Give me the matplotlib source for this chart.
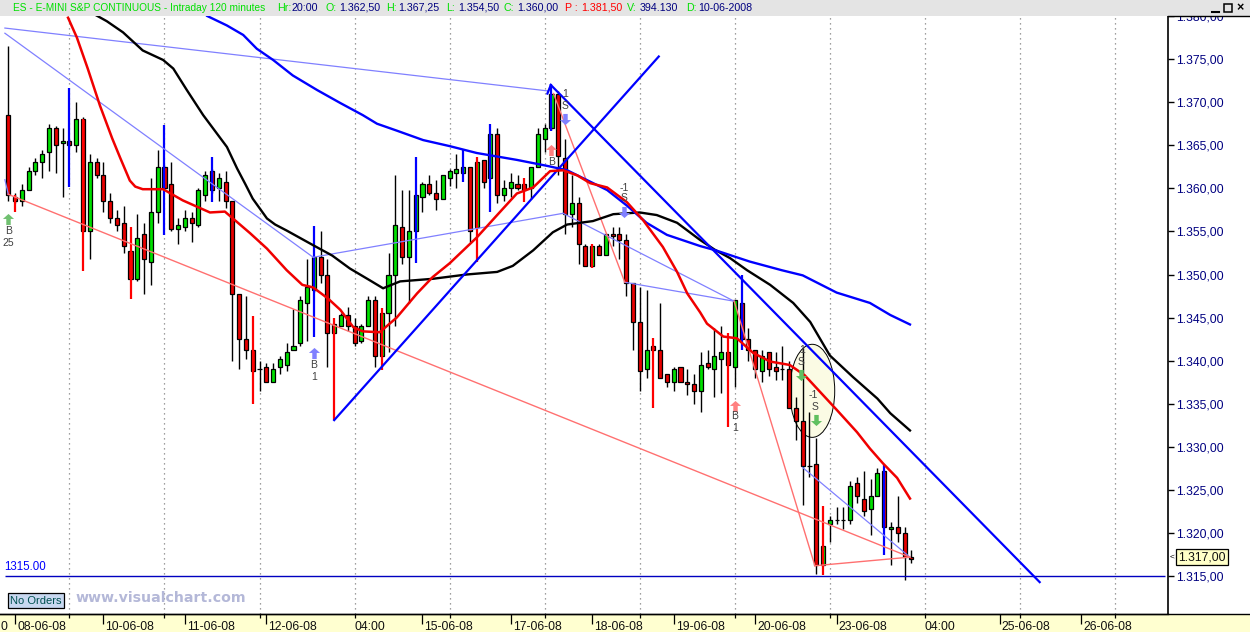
import matplotlib
matplotlib.use('Agg')
import matplotlib.pyplot as plt
from matplotlib.patches import Ellipse, Rectangle
from matplotlib.lines import Line2D
from matplotlib.transforms import ScaledTranslation

plt.rcParams['font.family'] = ['Liberation Sans', 'DejaVu Sans']

# velas de 120 minutos
opens = [1368.5,1359,1358.5,1359.75,1362,1363,1364.25,1367,1365.25,1365.5,
         1365,1368,1355,1363,1361.5,1358.5,1356.5,1356,1352.75,1349.5,
         1354.75,1351.5,1357.25,1362.5,1360.5,1355.25,1355.5,1356.5,1355.75,1359.25,
         1362,1360,1360.75,1358.5,1347.75,1342.5,1341.25,1339,1339.25,1337.5,
         1339.25,1339.5,1341.25,1342,1346.75,1348.25,1352,1350,1343.25,1344,
         1345.25,1344,1342.25,1344,1347,1340.5,1345.5,1350,1355.5,1352,
         1355,1359,1360.5,1359.5,1358.75,1361.25,1361.75,1361.75,1362.5,1355.5,
         1363.25,1361.25,1366.25,1359.25,1360,1360.5,1360.5,1360,1362.5,1365.75,
         1367,1371,1363.5,1357,1358.25,1353.25,1351,1353.25,1352.25,1354.75,
         1354.75,1354,1349,1344.5,1339,1341.75,1341.25,1338.5,1337.5,1339.25,
         1337.5,1337.25,1336.5,1339.75,1339,1340.25,1341,1339.25,1346.75,1342.5,
         1341.25,1338.75,1341,1339.25,1339,1339,1334.5,1333,1327.75,1328,
         1316.25,1321,1321.5,1321.5,1321.5,1325.75,1324,1322.75,1324.25,1327.25,
         1320.5,1320.75,1320,1317.25]
highs = [1376.5,1359.5,1360.5,1362.5,1363.5,1364.5,1367.5,1367.25,1367,1365.75,
         1370,1368.25,1364,1363.5,1363,1359.5,1357.5,1358,1352.75,1357,
         1356,1361.25,1364.5,1362.75,1363,1356.5,1357.5,1357.25,1360,1362,
         1362.25,1361.75,1362,1358.5,1347.75,1347.5,1341.25,1340,1339.75,1339.75,
         1340.5,1342,1346,1347.5,1351.75,1352,1355,1351.75,1344.25,1345.5,
         1346.25,1345,1344.25,1347.5,1347.5,1345.5,1352.5,1361.5,1359.75,1359.75,
         1359.25,1360.75,1361.5,1361,1361.5,1362.25,1364,1362.5,1362.5,1363,
         1363.25,1366.25,1367,1361,1361.75,1361.5,1360.5,1362.5,1367,1367.5,
         1371,1371.25,1365.75,1361.5,1359,1353.5,1353.25,1353.5,1354.75,1355.5,
         1355.5,1354.75,1349,1348.5,1348.25,1341.75,1346.75,1338.5,1339.25,1339.25,
         1339,1338.5,1341,1341.25,1343.75,1344,1341,1347,1346.75,1343.75,
         1341.25,1341.25,1341,1341,1341.75,1340,1335.75,1341.5,1334,1331,
         1318.5,1322,1323,1323,1326,1326.5,1327.25,1326.25,1327.5,1327.25,
         1321.25,1324.25,1320.75,1318]
lows = [1358.5,1358.25,1358,1359.75,1361.5,1361.25,1362,1361.75,1359,1364.75,
        1364.25,1355,1351.75,1361.25,1357.25,1356,1355,1352.5,1349.5,1349.25,
        1347.75,1348.75,1356,1360,1355,1353.5,1355,1353.75,1355.5,1358.5,
        1359.5,1358.5,1357.75,1340,1339,1340.25,1338.75,1336.5,1337.5,1337.5,
        1338.5,1338.75,1341.25,1341.75,1342.25,1348,1349,1339.25,1343.25,1344,
        1343.5,1341.75,1342,1344,1339.25,1340.5,1341,1344,1351.25,1346.75,
        1355,1357.25,1359.25,1357.5,1358.75,1360.25,1360,1361.75,1353.75,1355.5,
        1360,1361.25,1358.25,1358.5,1359,1359.75,1359.75,1358.75,1362.5,1364.25,
        1366.75,1361.5,1354.75,1355.5,1351.25,1351,1351,1352.25,1352.25,1353.25,
        1351.75,1347.5,1341.25,1336.5,1338,1341.25,1338,1337,1336.5,1337.5,
        1336,1335,1334,1339,1335.75,1336.25,1339.5,1337,1342.5,1340,
        1338,1337.5,1338.25,1337.75,1337.75,1334.5,1330.75,1323.25,1326.5,1315.25,
        1316.25,1319,1321,1320.5,1321,1323.5,1322,1319.75,1324.25,1320.75,
        1316.25,1319,1314.5,1316.5]
closes = [1359.25,1358.5,1359.75,1362,1363,1364,1367,1365,1365.5,1365,
          1368,1355,1363,1361.5,1358.5,1356.5,1355.75,1353.25,1349.5,1354.25,
          1351.75,1357.25,1362.5,1360,1355.25,1355.75,1356.5,1356,1359.75,1361.5,
          1359.75,1361.25,1358.5,1347.75,1342.5,1341.25,1338.75,1339,1337.5,1339,
          1340.25,1341,1341.75,1347,1348.5,1352,1350,1343.25,1344.25,1345.25,
          1344,1342,1344,1347,1340.5,1345.5,1350,1355.75,1352,1355,
          1359.25,1360.5,1359.5,1358.75,1361.5,1362,1362.25,1362.5,1355,1363,
          1360.75,1366.25,1359.25,1360,1360.75,1360,1359.75,1362.5,1366.25,1367,
          1371,1363.75,1357,1358.25,1353.5,1351,1353.25,1352.25,1354.75,1354.5,
          1354,1349,1344.5,1338.75,1341.25,1341.25,1338,1337.5,1339,1337.5,
          1337.25,1336.5,1339.5,1339.25,1340.5,1341,1339.5,1347,1342.5,1341.25,
          1339,1340.5,1339,1338.75,1339,1334.5,1333,1327.75,1327.75,1316.25,
          1318.5,1321.5,1321.5,1321.5,1325.5,1324.25,1322.5,1324.25,1327,1320.75,
          1320.75,1320,1317.25,1317]

# medias moviles
red_ma_x = [8.8,10.1,11.7,13.5,15.3,16.5,17.9,18.7,19.8,22.8,25.7,29.7,31.9,35.6,38.1,41,43.3,
            44.9,47.1,48.9,50.8,52.2,54.7,57.2,60.2,62.5,65,67,69,72,74.9,77.3,
            79.8,81.7,83.8,85.7,88.2,91.1,93.5,96.4,98.5,100,101.9,102.9,105.3,107.3,109.7,
            112.2,115.1,117.3,120,122,125,126.9,128.8,130.9,132.8]
red_ma_y = [1379.8,1377.5,1373.9,1369.6,1365.8,1363.5,1360.9,1360.2,1359.9,1359.9,1358.6,1357.2,1357.3,1354.8,1353,1350.5,1348.8,
            1348.5,1347.2,1345.9,1343.9,1343.4,1343.3,1345,1347.8,1349.7,1351.3,1352.8,1354.3,1356.9,1359.4,1360.1,
            1362,1362.1,1361.5,1360.6,1360.1,1358.4,1356.3,1353.2,1350.3,1347.8,1345.6,1344.3,1342.8,1342.6,1340.9,
            1339.9,1339.5,1338.3,1336,1334.3,1331.7,1329.8,1328.1,1326.4,1324]
black_ma_x = [12.9,14.5,16.9,19.8,22.8,24.3,26.3,28.7,32.2,33.7,34.9,36,38.1,39.3,41,44.9,47.7,50.3,53.3,55.2,57.7,62.5,
              67.5,72,74.3,77.3,80.2,82.3,86.1,89.1,93,95.5,98.5,101.9,104,106.3,108.8,112.2,115.6,118.1,121,124.4,
              128,129.9,132.8]
black_ma_y = [1380.1,1379.4,1378.1,1376,1374.9,1373.9,1371.4,1368.5,1364.8,1362.3,1360.5,1358.8,1356.5,1355.8,1355.1,1353.4,1352.2,1350.7,1349.3,1348.4,1349.2,1349.5,
              1350,1350.3,1351,1352.8,1354.9,1355.8,1356.2,1357,1357.2,1356.9,1356,1354,1352.9,1351.9,1350.5,1348.8,1346.7,1344.5,1340.6,1338.1,
              1335.6,1333.9,1331.9]
blue_ma_x = [29.3,32.2,34.6,36.6,39,41.9,45.5,48.9,52.2,54.3,57.2,61.1,65,69,74.9,79.4,82.3,84.6,88.2,91.1,
             94,97,101.9,104.2,109.2,113.9,117,122,126.9,129.9,132.8]
blue_ma_y = [1380,1378.9,1377.8,1376.2,1374.9,1373.1,1371.4,1369.9,1368.5,1367.5,1366.7,1365.6,1364.9,1364.1,1363.3,1362.6,1362.1,1361.2,1359.8,1358,
             1356,1354.6,1353.3,1352.8,1351.5,1350.5,1349.9,1347.9,1346.7,1345.3,1344.2]

# lineas de señal verticales
blue_sig_x = [9,23,30,45,60,67,71,80,108,129]
blue_sig_hi = [1371.6,1367.3,1363.6,1355.6,1363.6,1364.4,1367.5,1372,1350,1327.9]
blue_sig_lo = [1360.1,1354.6,1358.4,1342.8,1351.3,1360.7,1357.3,1366.7,1341.2,1317.4]
red_sig_x = [1,11,18,36,48,55,69,76,86,95,106,120]
red_sig_hi = [1359.2,1368.1,1355.5,1345.2,1344.9,1346.1,1363.6,1361.2,1353.5,1342.6,1343.2,1323.1]
red_sig_lo = [1357.3,1350.4,1347.2,1335,1333.1,1338.9,1351.4,1358.4,1350.8,1334.5,1332.3,1315.1]

# tendencias gruesas: (x0, y0, x1, y1)
thick_lines = [(48, 1333.1, 95.8, 1375.3), (79.9, 1372, 151.9, 1314.3), (79.4, 1371, 79.9, 1372)]
thin_blue = [(-0.5, 1378.6, 79.5, 1371.3), (-0.5, 1378, 44.9, 1352), (44.9, 1352, 81.7, 1357.1),
             (81.7, 1357.1, 106.9, 1346.9), (90.8, 1349.1, 106.9, 1346.9), (117, 1327.6, 132.8, 1317.2),
             (-0.5, 1361, 0, 1359.3)]
thin_red = [(0, 1359.3, 132.8, 1317.2), (80.3, 1371, 90.8, 1349.1), (106.9, 1346.9, 118.8, 1316.2),
            (118.8, 1316.2, 132.8, 1317.2)]

# flechas y textos
up_arrows = [(0, 1356.4, '#70c070'), (45, 1340.9, '#8080ff'), (80, 1364.4, '#ff8080'), (107, 1334.7, '#ff8080')]
down_arrows = [(82, 1368.1, '#8080ff'), (90.7, 1357.2, '#8080ff'), (116.7, 1338.3, '#60c060'), (118.9, 1333.1, '#60c060')]
notes = [(0, 1355, 'B'), (0, 1353.6, '25'), (45, 1339.5, 'B'), (45, 1338.1, '1'), (80, 1363.1, 'B'),
         (82, 1371, '1'), (82, 1369.6, 'S'), (90.7, 1360, '-1'), (90.7, 1358.9, 'S'),
         (107, 1333.6, 'B'), (107, 1332.2, '1'), (116.9, 1341.2, '1'), (116.7, 1339.8, 'S'),
         (118.6, 1336, '-1'), (118.8, 1334.6, 'S')]

grid_idx = [9,23,37,51,65,79,93,107,121,135,149,163]
date_idx = [-1.2,1,14,26,38,51,61,74,86,98,110,122,135,146,158]
date_labels = ['0','08-06-08','10-06-08','11-06-08','12-06-08','04:00','15-06-08','17-06-08','18-06-08',
               '19-06-08','20-06-08','23-06-08','04:00','25-06-08','26-06-08']
price_ticks = [1315,1320,1325,1330,1335,1340,1345,1350,1355,1360,1365,1370,1375,1380]

header = [(13, 'ES - E-MINI S&P CONTINUOUS - Intraday 120 minutes', '#00e000', 7.25),
          (277, 'Hr:', '#00e000', 7.7), (292, '20:00', '#000080', 7.7), (325, 'O:', '#00e000', 7.7),
          (339, '1.362,50', '#000080', 7.7), (386, 'H:', '#00e000', 7.7), (398, '1.367,25', '#000080', 7.7),
          (446, 'L:', '#00e000', 7.7), (458, '1.354,50', '#000080', 7.7), (504, 'C:', '#00e000', 7.7),
          (517, '1.360,00', '#000080', 7.7), (565, 'P :', '#ff0000', 7.7), (581, '1.381,50', '#ff0000', 7.7),
          (627, 'V:', '#00e000', 7.7), (640, '394.130', '#000080', 7.7), (686, 'D:', '#00e000', 7.7),
          (698, '10-06-2008', '#000080', 7.7)]

W, H = 1250, 632
fig = plt.figure(figsize=(W / 100, H / 100), dpi=100, facecolor='white')
ax = fig.add_axes([0, 18 / H, 1168 / W, 598 / H])
ax.set_xlim(-1.222, 170.8)
ax.set_ylim(1310.6, 1379.96)

# franja inferior crema
fig.patches.append(Rectangle((0, 0), 1, 18 / H, transform=fig.transFigure, facecolor='#ffffd0',
                             edgecolor='none', zorder=-1))

for s in ['left', 'top']:
    ax.spines[s].set_visible(False)
ax.spines['right'].set_linewidth(1.2)
ax.spines['bottom'].set_linewidth(1.0)

# rejilla punteada
for g in grid_idx:
    ax.axvline(g, color='#808080', lw=0.9, ls=(0, (1, 3)), zorder=1)

ax.add_patch(Ellipse((118.4, 1336.5), 6.63, 10.8, facecolor='#fbfbe4', edgecolor='black', lw=0.7, zorder=1.5))

# velas
idx = list(range(len(opens)))
ax.vlines(idx, lows, highs, color='black', lw=1.0, zorder=2)
bottoms = [min(o, c) for o, c in zip(opens, closes)]
heights = [abs(o - c) for o, c in zip(opens, closes)]
colors = ['#00e000' if c >= o else '#e80000' for o, c in zip(opens, closes)]
ax.bar(idx, heights, width=0.6, bottom=bottoms, color=colors, edgecolor='black', linewidth=0.9, zorder=3)

# señales
ax.vlines(blue_sig_x, blue_sig_lo, blue_sig_hi, color='#0000ff', lw=1.6, zorder=4)
ax.vlines(red_sig_x, red_sig_lo, red_sig_hi, color='#ff0000', lw=1.6, zorder=4)

# nivel 1315
ax.hlines(1315, -0.5, 170.3, color='#0000c0', lw=1.0, zorder=4)
ax.text(-0.65, 1316, '1315.00', color='#0000ff', fontsize=8.3, ha='left', va='center')

for x0, y0, x1, y1 in thin_blue:
    ax.plot([x0, x1], [y0, y1], color='#8080ff', lw=0.9, zorder=5)
for x0, y0, x1, y1 in thin_red:
    ax.plot([x0, x1], [y0, y1], color='#ff7070', lw=1.0, zorder=5)

ax.plot(black_ma_x, black_ma_y, color='black', lw=1.7, zorder=6)
ax.plot(blue_ma_x, blue_ma_y, color='#0000ff', lw=1.7, zorder=6)
ax.plot(red_ma_x, red_ma_y, color='#f00000', lw=1.8, zorder=7)
for x0, y0, x1, y1 in thick_lines:
    ax.plot([x0, x1], [y0, y1], color='#0000ff', lw=1.6, zorder=6)

arrow_up = [(0, 1), (-1, 0.1), (-0.4, 0.1), (-0.4, -1), (0.4, -1), (0.4, 0.1), (1, 0.1), (0, 1)]
arrow_down = [(x, -y) for x, y in arrow_up]
for x, y, c in up_arrows:
    ax.plot(x, y, marker=arrow_up, color=c, ms=8, mew=0, zorder=8)
for x, y, c in down_arrows:
    ax.plot(x, y, marker=arrow_down, color=c, ms=8, mew=0, zorder=8)
for x, y, t in notes:
    ax.text(x, y, t, fontsize=7.5, color='#404040', ha='center', va='center', zorder=8)

# ejes
ax.yaxis.tick_right()
ax.set_yticks(price_ticks)
ax.set_yticklabels([f'{p:,.2f}'.replace(',', ';').replace('.', ',').replace(';', '.') for p in price_ticks],
                   fontsize=8.7, color='#000080')
ax.tick_params(axis='y', length=4, width=1, pad=1.5)
ax.set_xticks(date_idx)
ax.set_xticklabels(date_labels, fontsize=8.7, color='#101010', ha='left')
ax.tick_params(axis='x', length=7, width=0.9, pad=-2)
ax.set_xticks(grid_idx, minor=True)
ax.tick_params(axis='x', which='minor', length=3, width=0.9)
shift = ScaledTranslation(1.4 / 72, 0, fig.dpi_scale_trans)
for tick, lab in zip(ax.xaxis.get_major_ticks(), date_labels):
    if lab == '04:00':
        tick.tick1line.set_markersize(3)
    elif lab == '0':
        tick.tick1line.set_markersize(0)
    else:
        tick.label1.set_transform(tick.label1.get_transform() + shift)

# valor actual
trans = ax.get_yaxis_transform()
ax.text(1 + 10 / 1168, 1317.2, '1.317,00', transform=trans, fontsize=8.7, color='#101010', va='center', ha='left',
        clip_on=False, bbox=dict(boxstyle='square,pad=0.18', facecolor='#ffffc8', edgecolor='black', lw=0.9), zorder=9)
ax.text(1 + 2 / 1168, 1317.2, '<', transform=trans, fontsize=6, color='black', va='center', ha='left', clip_on=False)

# cabecera gris
hax = fig.add_axes([0, 0, 1, 1], facecolor='none')
hax.set_xlim(0, W)
hax.set_ylim(H, 0)
hax.axis('off')
hax.add_patch(Rectangle((0, 0), W, 16, facecolor='#e4e4e4', edgecolor='none'))
for x, t, c, fs in header:
    hax.text(x, 8, t, color=c, fontsize=fs, ha='left', va='center')
hax.add_line(Line2D([1168, W], [15.5, 15.5], color='black', lw=1))
hax.add_line(Line2D([0, W], [614, 614], color='black', lw=1))
# botones de ventana
hax.add_line(Line2D([1212, 1219], [11.5, 11.5], color='black', lw=1.5))
hax.add_patch(Rectangle((1224, 4), 8, 8, facecolor='none', edgecolor='black', lw=1.1))
hax.text(1240, 8, '×', fontsize=9, fontweight='bold', ha='center', va='center', color='black')

# caja de ordenes y marca de agua
hax.text(36, 600.5, 'No Orders', fontsize=8, color='#005050', ha='center', va='center',
         bbox=dict(boxstyle='square,pad=0.2', facecolor='#c8d8f0', edgecolor='black', lw=0.9))
hax.text(75, 598.5, 'www.visualchart.com', fontsize=10.2, fontweight='bold', family='DejaVu Sans',
         color='#b4b8d8', ha='left', va='center')

fig.savefig('out.png', dpi=100)
